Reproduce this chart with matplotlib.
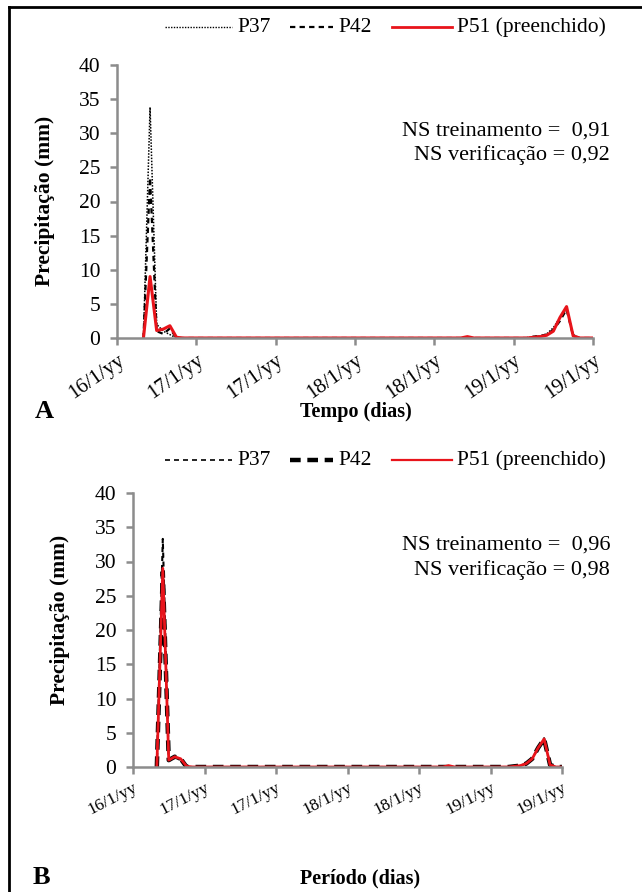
import matplotlib
matplotlib.use("Agg")
import matplotlib.pyplot as plt
from matplotlib.lines import Line2D
import numpy as np

plt.rcParams['font.family'] = ['Liberation Serif', 'DejaVu Serif']

hours = list(range(73))
tick_hours = [0, 12, 24, 36, 48, 60, 72]
tick_labels = ['16/1/yy', '17/1/yy', '17/1/yy', '18/1/yy', '18/1/yy', '19/1/yy', '19/1/yy']
first_hour = 4  # series begin here (no data before)

def series(spike, tail):
    v = [np.nan] * first_hour + [0.0] * (73 - first_hour)
    for h, val in spike.items():
        v[h] = val
    for h, val in tail.items():
        v[h] = val
    return v

# Panel A
p37_a = series({5: 33.8, 6: 2.0, 7: 1.0, 8: 0.5},
               {63: 0.2, 64: 0.3, 65: 0.6, 66: 1.5, 67: 3.0, 68: 4.2, 69: 0.5})
p42_a = series({5: 23.5, 6: 1.0, 7: 0.6, 8: 1.4},
               {63: 0.2, 64: 0.3, 65: 0.5, 66: 1.2, 67: 2.5, 68: 4.2, 69: 0.3})
p51_a = series({5: 9.0, 6: 1.1, 7: 1.3, 8: 1.8, 9: 0.1, 53: 0.2},
               {63: 0.1, 64: 0.2, 65: 0.4, 66: 1.0, 67: 3.0, 68: 4.6, 69: 0.3})
# Panel B
p37_b = series({5: 33.3, 6: 1.0, 7: 1.4, 8: 1.0},
               {64: 0.1, 65: 0.2, 66: 0.5, 67: 1.2, 68: 2.8, 69: 4.2, 70: 0.3})
p42_b = series({5: 28.5, 6: 1.0, 7: 1.5, 8: 1.2},
               {64: 0.1, 65: 0.2, 66: 0.5, 67: 1.2, 68: 2.8, 69: 4.1, 70: 0.3})
p51_b = series({5: 29.0, 6: 1.0, 7: 1.5, 8: 1.2, 9: 0.1, 53: 0.2},
               {64: 0.1, 65: 0.2, 66: 0.5, 67: 1.2, 68: 2.8, 69: 4.1, 70: 0.3})

legend_labels = ['P37', 'P42', 'P51 (preenchido)']
ns_a = ('NS treinamento =  0,91', 'NS verificação = 0,92')
ns_b = ('NS treinamento =  0,96', 'NS verificação = 0,98')

W, H = 642, 892
fig = plt.figure(figsize=(W / 100, H / 100), dpi=100)

def fx(x):
    return x / W

def fy(y):
    return 1 - y / H

def ax_rect(x0, x1, y_top, y_bot):
    return [x0 / W, 1 - y_bot / H, (x1 - x0) / W, (y_bot - y_top) / H]

gray = '#8c8c8c'
red = '#e8141b'
ytick_fs = 15.5

def style_axis(ax, rot, xfs):
    ax.set_xlim(0, 72)
    ax.set_ylim(0, 40)
    ax.set_yticks(range(0, 41, 5))
    ax.set_xticks(tick_hours)
    ax.set_xticklabels(tick_labels, rotation=rot, ha='right', rotation_mode='anchor', fontsize=xfs)
    for s in ['top', 'right']:
        ax.spines[s].set_visible(False)
    for s in ['left', 'bottom']:
        ax.spines[s].set_color(gray)
        ax.spines[s].set_linewidth(1.8)
    ax.tick_params(axis='both', colors=gray, labelcolor='black',
                   width=1.8, length=5, direction='out')
    ax.tick_params(axis='y', labelsize=ytick_fs, pad=7)
    ax.tick_params(axis='x', pad=4)

# ---- Panel A
axA = fig.add_axes(ax_rect(117, 593, 65, 338))
axA.plot(hours, p37_a, color='black', lw=1.1, ls=(0, (1, 1)))
axA.plot(hours, p42_a, color='black', lw=1.6, ls=(0, (2.4, 1.9)))
axA.plot(hours, p51_a, color=red, lw=2.2)
style_axis(axA, 35, 15)

# ---- Panel B
axB = fig.add_axes(ax_rect(133, 562, 493, 767))
axB.plot(hours, p37_b, color='black', lw=1.5, ls=(0, (2.4, 1.9)))
axB.plot(hours, p42_b, color='black', lw=3.2, ls=(0, (2.4, 1.5)))
axB.plot(hours, p51_b, color=red, lw=2.0)
style_axis(axB, 27, 12.5)

ns_fs = 16
for (t1, t2), (y1, y2) in [(ns_a, (131, 155)), (ns_b, (545, 570))]:
    fig.text(fx(610), fy(y1), t1, ha='right', va='center', fontsize=ns_fs)
    fig.text(fx(610), fy(y2), t2, ha='right', va='center', fontsize=ns_fs)

# y labels
fig.text(fx(45), fy(201), 'Precipitação (mm)', rotation=90, ha='center', va='center',
         fontsize=15.5, fontweight='bold')
fig.text(fx(60), fy(620), 'Precipitação (mm)', rotation=90, ha='center', va='center',
         fontsize=15.5, fontweight='bold')

# legends (drawn manually to match the layout)
leg_fs = 15.5
def legend_row(y, styles):
    segs = [(165, 232), (290, 333), (392, 452)]
    txt_x = [237, 338, 457]
    for (x0, x1), tx, st, lab in zip(segs, txt_x, styles, legend_labels):
        fig.add_artist(Line2D([fx(x0), fx(x1)], [fy(y), fy(y)], **st))
        fig.text(fx(tx), fy(y), lab, ha='left', va='center', fontsize=leg_fs)

legend_row(27, [dict(color='black', lw=1.0, ls=(0, (1, 1))),
                dict(color='black', lw=1.6, ls=(0, (2.4, 1.9))),
                dict(color=red, lw=2.0)])
legend_row(460, [dict(color='black', lw=1.2, ls=(0, (3, 2.4))),
                 dict(color='black', lw=3.2, ls=(0, (2.4, 1.5))),
                 dict(color=red, lw=1.6)])

fig.text(fx(35), fy(412), 'A', fontsize=19, fontweight='bold', va='center')
fig.text(fx(356), fy(412), 'Tempo (dias)', fontsize=14.5, fontweight='bold', va='center', ha='center')
fig.text(fx(33), fy(878), 'B', fontsize=19, fontweight='bold', va='center')
fig.text(fx(360), fy(878), 'Período (dias)', fontsize=14.5, fontweight='bold', va='center', ha='center')

# border frame (left and top)
fig.add_artist(Line2D([fx(9), fx(9)], [0, fy(7)], color='black', lw=2))
fig.add_artist(Line2D([fx(9), 1], [fy(7), fy(7)], color='black', lw=2))

fig.savefig('out.png', dpi=100)
